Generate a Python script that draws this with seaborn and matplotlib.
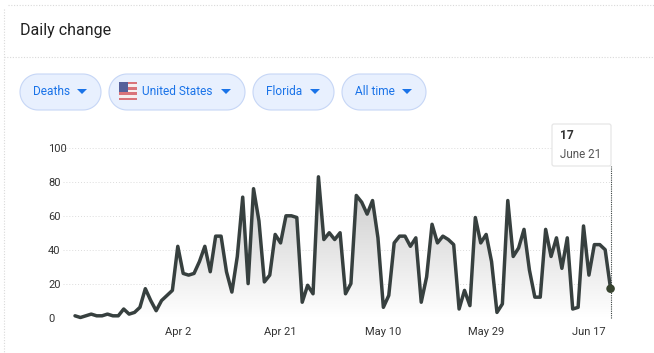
import numpy as np
import pandas as pd
import seaborn as sns
import matplotlib.pyplot as plt
import matplotlib.dates as mdates
from matplotlib.colors import LinearSegmentedColormap
from matplotlib.patches import FancyBboxPatch, Polygon, Rectangle

# values, one per day from Mar 14 to Jun 21
deaths = [1, 0, 1, 2, 1, 1, 2, 1, 1, 5,
          2, 3, 6, 17, 10, 4, 10, 13, 16, 42,
          26, 25, 26, 33, 42, 27, 48, 48, 27, 15,
          36, 71, 20, 76, 57, 21, 25, 49, 44, 60,
          60, 59, 9, 19, 14, 83, 46, 50, 46, 50,
          14, 20, 72, 68, 61, 69, 47, 6, 13, 44,
          48, 48, 42, 47, 9, 24, 55, 44, 48, 46,
          43, 5, 16, 7, 59, 44, 49, 33, 3, 8,
          69, 36, 41, 52, 28, 12, 12, 52, 36, 47,
          29, 47, 5, 6, 54, 25, 43, 43, 40, 17]
y_ticks = [0, 20, 40, 60, 80, 100]
x_tick_dates = ['2020-04-02', '2020-04-21', '2020-05-10', '2020-05-29', '2020-06-17']
x_tick_labels = ['Apr 2', 'Apr 21', 'May 10', 'May 29', 'Jun 17']
chips = ['Deaths', 'United States', 'Florida', 'All time']

dates = pd.date_range('2020-03-14', periods=len(deaths))
df = pd.DataFrame({'date': dates, 'deaths': deaths})

sns.set_style('white')
plt.rcParams['font.family'] = ['Roboto', 'DejaVu Sans']

W, H = 654, 353
fig = plt.figure(figsize=(W / 100, H / 100), dpi=100)

# overlay in pixel coordinates for the card and the filter chips
bg = fig.add_axes([0, 0, 1, 1], zorder=0)
bg.set_xlim(0, W)
bg.set_ylim(H, 0)
bg.axis('off')

border = dict(color='#d9d9d9', lw=0.8, ls=(0, (1, 1.5)))
bg.plot([8, W], [5, 5], **border)
bg.plot([4, 4], [9, H], **border)
bg.plot([4, W], [57, 57], **border)
bg.text(20, 31, 'Daily change', fontsize=11.5, color='#222222', va='center')


def pill(x0, x1, y0, y1):
    # real semicircle ends, the round boxstyle gives squarish corners
    r = (y1 - y0) / 2
    t = np.linspace(-np.pi / 2, np.pi / 2, 40)
    right_end = np.c_[x1 - r + r * np.cos(t), y0 + r + r * np.sin(t)]
    left_end = np.c_[x0 + r - r * np.cos(t[::-1]), y0 + r + r * np.sin(t[::-1])]
    return np.vstack([right_end, left_end])


chip_box = [(20, 101), (109, 245), (253, 334), (342, 426)]
chip_text_x = [33, 142, 266, 355]
for name, (x0, x1), tx in zip(chips, chip_box, chip_text_x):
    bg.add_patch(Polygon(pill(x0, x1, 74, 110), closed=True, fc='#e8f0fe', ec='#c6d6f6', lw=0.8))
    bg.text(tx, 91.5, name, fontsize=8.6, color='#1a73e8', va='center')
    bg.add_patch(Polygon([[x1 - 24, 89], [x1 - 14, 89], [x1 - 19, 94]], fc='#1a73e8', ec='none'))

# little flag
for i in range(7):
    bg.add_patch(Rectangle((119, 81.5 + i * 2.7), 18, 2.7,
                           fc='#d9737a' if i % 2 == 0 else '#f6eeee', ec='none'))
bg.add_patch(Rectangle((119, 81.5), 9, 10, fc='#55609a', ec='none'))

# chart axes, y=100 at 148px and y=0 at 317.5px
left, right, top, bottom = 63, 611, 148, 317.5
ax = fig.add_axes([left / W, 1 - bottom / H, (right - left) / W, (bottom - top) / H], zorder=1)
ax.patch.set_alpha(0)

sns.lineplot(data=df, x='date', y='deaths', color='#37403f', lw=2.5, ax=ax, clip_on=False, zorder=4)

# grey to white gradient clipped under the line
cmap = LinearSegmentedColormap.from_list('fade', ['#ffffff', '#c8c8c8'])
x_num = mdates.date2num(dates)
gradient = np.linspace(1, 0, 256).reshape(-1, 1)
im = ax.imshow(gradient, cmap=cmap, vmin=0, vmax=1, aspect='auto', zorder=2,
               extent=[x_num[0], x_num[-1], 0, max(deaths)])
area = ax.fill_between(dates, 0, deaths, color='none')
im.set_clip_path(area.get_paths()[0], transform=ax.transData)

ax.set_xlim(x_num[-1] - (610.6 - left) / 5.41, x_num[-1] + 0.08)
ax.set_ylim(0, 100)
ax.set_xlabel('')
ax.set_ylabel('')

ax.set_yticks(y_ticks)
ax.set_xticks(pd.to_datetime(x_tick_dates))
ax.set_xticklabels(x_tick_labels)
ax.tick_params(axis='y', length=0, pad=10.8, labelsize=8, labelcolor='#333333')
ax.tick_params(axis='x', length=4.5, width=0.7, color='#dddddd', pad=2.5, labelsize=8, labelcolor='#333333')
for lab in ax.get_yticklabels():
    lab.set_ha('left')
ax.grid(axis='y', color='#dcdcdc', lw=0.7, ls=(0, (1, 2)), zorder=1)
ax.grid(axis='x', visible=False)
for s in ax.spines.values():
    s.set_visible(False)

# hover marker and its tooltip
ax.vlines(dates[-1], 0, 89.4, color='#37403f', lw=0.8, ls=(0, (1, 1)), zorder=3, clip_on=False)
sns.scatterplot(x=[dates[-1]], y=[deaths[-1]], color='#37432f', s=38, ax=ax, zorder=5,
                clip_on=False, edgecolor='none', legend=False)

tip = fig.add_axes([0, 0, 1, 1], zorder=2)
tip.set_xlim(0, W)
tip.set_ylim(H, 0)
tip.axis('off')
tip.add_patch(FancyBboxPatch((552, 124), 59, 42, boxstyle='round,pad=0,rounding_size=2',
                             fc='white', ec='#e6e6e6', lw=0.9))
tip.text(560, 135.5, str(deaths[-1]), fontsize=8.6, fontweight='bold', color='#333333', va='center')
tip.text(560, 155, 'June 21', fontsize=8.4, color='#555555', va='center')

fig.savefig('out.png', dpi=100, facecolor='white')
